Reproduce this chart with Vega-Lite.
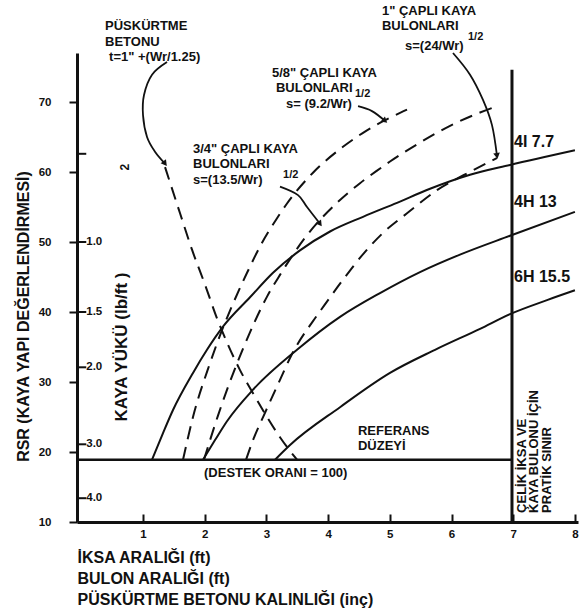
{
  "$schema": "https://vega.github.io/schema/vega-lite/v6.json",
  "width": 501,
  "height": 469,
  "autosize": {"type": "none"},
  "padding": {"left": 77, "top": 53, "right": 2, "bottom": 90},
  "background": "white",
  "config": {
    "view": {"stroke": null},
    "font": "Liberation Sans",
    "text": {"font": "Liberation Sans", "fontWeight": "bold", "fontSize": 13, "color": "#111"}
  },
  "datasets": {
    "solid": [
      {"s": "4I", "x": 1.146, "y": 18.9}, {"s": "4I", "x": 1.324, "y": 22.7}, {"s": "4I", "x": 1.486, "y": 26.0}, {"s": "4I", "x": 1.81, "y": 31.3}, {"s": "4I", "x": 2.037, "y": 34.6}, {"s": "4I", "x": 2.296, "y": 37.9}, {"s": "4I", "x": 2.734, "y": 42.1}, {"s": "4I", "x": 3.107, "y": 45.6}, {"s": "4I", "x": 3.544, "y": 48.8}, {"s": "4I", "x": 4.031, "y": 51.5}, {"s": "4I", "x": 4.566, "y": 53.6}, {"s": "4I", "x": 5.117, "y": 55.6}, {"s": "4I", "x": 5.652, "y": 57.6}, {"s": "4I", "x": 6.3, "y": 59.6}, {"s": "4I", "x": 6.948, "y": 61.0}, {"s": "4I", "x": 8.0, "y": 63.1},
      {"s": "4H", "x": 1.972, "y": 18.9}, {"s": "4H", "x": 2.167, "y": 21.7}, {"s": "4H", "x": 2.361, "y": 24.4}, {"s": "4H", "x": 2.783, "y": 28.9}, {"s": "4H", "x": 3.496, "y": 34.6}, {"s": "4H", "x": 4.193, "y": 39.3}, {"s": "4H", "x": 4.841, "y": 42.7}, {"s": "4H", "x": 5.489, "y": 45.7}, {"s": "4H", "x": 6.137, "y": 48.2}, {"s": "4H", "x": 6.948, "y": 50.9}, {"s": "4H", "x": 8.0, "y": 54.3},
      {"s": "6H", "x": 3.14, "y": 18.9}, {"s": "6H", "x": 3.383, "y": 21.0}, {"s": "6H", "x": 4.193, "y": 26.4}, {"s": "6H", "x": 5.003, "y": 31.3}, {"s": "6H", "x": 5.733, "y": 34.6}, {"s": "6H", "x": 6.462, "y": 37.6}, {"s": "6H", "x": 6.948, "y": 39.7}, {"s": "6H", "x": 7.548, "y": 41.7}, {"s": "6H", "x": 8.0, "y": 43.1}
    ],
    "dashed": [
      {"s": "5/8", "x": 1.648, "y": 18.9}, {"s": "5/8", "x": 1.81, "y": 25.0}, {"s": "5/8", "x": 2.086, "y": 32.7}, {"s": "5/8", "x": 2.28, "y": 37.4}, {"s": "5/8", "x": 2.41, "y": 40.2}, {"s": "5/8", "x": 2.686, "y": 45.6}, {"s": "5/8", "x": 2.929, "y": 49.9}, {"s": "5/8", "x": 3.172, "y": 53.4}, {"s": "5/8", "x": 3.334, "y": 55.5}, {"s": "5/8", "x": 3.755, "y": 59.9}, {"s": "5/8", "x": 4.241, "y": 63.6}, {"s": "5/8", "x": 4.566, "y": 65.6}, {"s": "5/8", "x": 4.922, "y": 67.4}, {"s": "5/8", "x": 5.279, "y": 68.9},
      {"s": "3/4", "x": 1.988, "y": 18.9}, {"s": "3/4", "x": 2.215, "y": 25.2}, {"s": "3/4", "x": 2.442, "y": 30.8}, {"s": "3/4", "x": 2.637, "y": 35.1}, {"s": "3/4", "x": 2.815, "y": 38.7}, {"s": "3/4", "x": 3.01, "y": 42.2}, {"s": "3/4", "x": 3.22, "y": 45.3}, {"s": "3/4", "x": 3.625, "y": 50.6}, {"s": "3/4", "x": 4.144, "y": 55.6}, {"s": "3/4", "x": 4.517, "y": 58.4}, {"s": "3/4", "x": 4.793, "y": 60.2}, {"s": "3/4", "x": 5.003, "y": 61.5}, {"s": "3/4", "x": 5.489, "y": 64.2}, {"s": "3/4", "x": 5.976, "y": 66.6}, {"s": "3/4", "x": 6.462, "y": 68.5}, {"s": "3/4", "x": 6.673, "y": 69.2},
      {"s": "1", "x": 2.67, "y": 18.9}, {"s": "1", "x": 2.783, "y": 21.7}, {"s": "1", "x": 2.977, "y": 25.6}, {"s": "1", "x": 3.22, "y": 30.3}, {"s": "1", "x": 3.415, "y": 34.0}, {"s": "1", "x": 3.755, "y": 38.7}, {"s": "1", "x": 3.869, "y": 40.1}, {"s": "1", "x": 4.241, "y": 44.6}, {"s": "1", "x": 4.599, "y": 48.6}, {"s": "1", "x": 4.89, "y": 51.3}, {"s": "1", "x": 5.279, "y": 54.1}, {"s": "1", "x": 5.765, "y": 57.4}, {"s": "1", "x": 6.186, "y": 59.5}, {"s": "1", "x": 6.737, "y": 62.0},
      {"s": "shot", "x": 1.357, "y": 60.7}, {"s": "shot", "x": 1.6, "y": 54.1}, {"s": "shot", "x": 1.794, "y": 48.9}, {"s": "shot", "x": 2.005, "y": 43.9}, {"s": "shot", "x": 2.199, "y": 39.1}, {"s": "shot", "x": 2.378, "y": 35.3}, {"s": "shot", "x": 2.572, "y": 31.7}, {"s": "shot", "x": 2.783, "y": 28.4}, {"s": "shot", "x": 3.01, "y": 25.0}, {"s": "shot", "x": 3.22, "y": 22.1}, {"s": "shot", "x": 3.496, "y": 18.9}
    ],
    "arrows": [
      {"s": "a1", "o": 1, "x": 1.389, "y": 75.7}, {"s": "a1", "o": 2, "x": 1.146, "y": 73.9}, {"s": "a1", "o": 3, "x": 1.016, "y": 71.0}, {"s": "a1", "o": 4, "x": 1.0, "y": 68.1}, {"s": "a1", "o": 5, "x": 1.065, "y": 65.0}, {"s": "a1", "o": 6, "x": 1.194, "y": 62.9}, {"s": "a1", "o": 7, "x": 1.357, "y": 61.2},
      {"s": "a2", "o": 1, "x": 4.485, "y": 69.4}, {"s": "a2", "o": 2, "x": 4.711, "y": 68.7}, {"s": "a2", "o": 3, "x": 4.922, "y": 67.3},
      {"s": "a3", "o": 1, "x": 3.22, "y": 57.9}, {"s": "a3", "o": 2, "x": 3.512, "y": 56.7}, {"s": "a3", "o": 3, "x": 3.658, "y": 55.0}, {"s": "a3", "o": 4, "x": 3.869, "y": 52.6},
      {"s": "a4", "o": 1, "x": 6.024, "y": 77.0}, {"s": "a4", "o": 2, "x": 6.3, "y": 73.9}, {"s": "a4", "o": 3, "x": 6.51, "y": 70.3}, {"s": "a4", "o": 4, "x": 6.656, "y": 66.7}, {"s": "a4", "o": 5, "x": 6.737, "y": 62.3}
    ],
    "heads": [
      {"x": 1.357, "y": 61.2, "a": -37},
      {"x": 4.922, "y": 67.3, "a": -50},
      {"x": 3.869, "y": 52.6, "a": -36},
      {"x": 6.737, "y": 62.3, "a": -9}
    ],
    "load": [
      {"y": 62.6, "t": ""}, {"y": 50, "t": "1.0"}, {"y": 40, "t": "1.5"}, {"y": 32.1, "t": "2.0"}, {"y": 21.1, "t": "3.0"}, {"y": 13.4, "t": "4.0"}
    ],
    "labels": [
      {"x": 0.384, "y": 80.8, "t": "PÜSKÜRTME"},
      {"x": 0.384, "y": 78.6, "t": "BETONU"},
      {"x": 0.45, "y": 76.4, "t": "t=1\" +(Wr/1.25)"},
      {"x": 3.09, "y": 74.2, "t": "5/8\" ÇAPLI KAYA"},
      {"x": 3.155, "y": 72.0, "t": "BULONLARI"},
      {"x": 3.318, "y": 69.7, "t": "s= (9.2/Wr)"},
      {"x": 1.81, "y": 63.3, "t": "3/4\" ÇAPLI KAYA"},
      {"x": 1.81, "y": 61.1, "t": "BULONLARI"},
      {"x": 1.81, "y": 58.9, "t": "s=(13.5/Wr)"},
      {"x": 4.873, "y": 83.0, "t": "1\" ÇAPLI KAYA"},
      {"x": 4.873, "y": 80.8, "t": "BULONLARI"},
      {"x": 5.246, "y": 78.0, "t": "s=(24/Wr)"},
      {"x": 4.484, "y": 23.0, "t": "REFERANS"},
      {"x": 4.484, "y": 20.8, "t": "DÜZEYİ"},
      {"x": 1.989, "y": 17.0, "t": "(DESTEK ORANI = 100)"}
    ],
    "steel": [
      {"x": 7.013, "y": 64.3, "t": "4I 7.7"},
      {"x": 7.013, "y": 55.7, "t": "4H 13"},
      {"x": 7.013, "y": 45.0, "t": "6H 15.5"}
    ],
    "sup": [
      {"x": 4.435, "y": 71.1, "t": "1/2"},
      {"x": 3.27, "y": 59.6, "t": "1/2"},
      {"x": 6.267, "y": 79.3, "t": "1/2"}
    ],
    "vert": [
      {"x": 7.143, "y": 11.3, "t": "ÇELİK İKSA VE"},
      {"x": 7.33, "y": 11.3, "t": "KAYA BULONU İÇİN"},
      {"x": 7.54, "y": 11.3, "t": "PRATİK SINIR"}
    ],
    "vertc": [
      {"x": 0.66, "y": 35.0, "t": "KAYA YÜKÜ (lb/ft )"}
    ],
    "vertc2": [
      {"x": 0.708, "y": 60.7, "t": "2"}
    ]
  },
  "layer": [
    {
      "data": {"name": "solid"},
      "mark": {"type": "line", "interpolate": "monotone", "strokeWidth": 2, "color": "#111"},
      "encoding": {
        "x": {
          "field": "x", "type": "quantitative",
          "scale": {"domain": [-0.07, 8.05], "nice": false, "zero": false},
          "axis": {
            "values": [1, 2, 3, 4, 5, 6, 7, 8], "format": "d", "grid": false,
            "domainColor": "#111", "domainWidth": 3, "tickColor": "#111", "tickWidth": 2, "tickSize": -8,
            "labelFont": "Liberation Sans", "labelFontWeight": "bold", "labelFontSize": 11.5, "labelColor": "#111", "labelPadding": 14,
            "title": ["İKSA ARALIĞI (ft)", "BULON ARALIĞI (ft)", "PÜSKÜRTME BETONU KALINLIĞI (inç)"],
            "titleFont": "Liberation Sans", "titleFontWeight": "bold", "titleFontSize": 16, "titleColor": "#111",
            "titleAnchor": "start", "titleAlign": "left", "titleBaseline": "middle", "titleLineHeight": 21, "titleX": 0, "titleY": 35
          }
        },
        "y": {
          "field": "y", "type": "quantitative",
          "scale": {"domain": [10, 77], "nice": false, "zero": false},
          "axis": {
            "values": [10, 20, 30, 40, 50, 60, 70], "grid": false,
            "domainColor": "#111", "domainWidth": 3, "tickColor": "#111", "tickWidth": 2, "tickSize": 8,
            "labelFont": "Liberation Sans", "labelFontWeight": "bold", "labelFontSize": 11.5, "labelColor": "#111", "labelPadding": 18,
            "title": "RSR (KAYA YAPI DEĞERLENDİRMESİ)",
            "titleFont": "Liberation Sans", "titleFontWeight": "bold", "titleFontSize": 16, "titleColor": "#111",
            "titleAngle": 270, "titleAlign": "center", "titleBaseline": "middle", "titleX": -54, "titleY": 263
          }
        },
        "detail": {"field": "s"}
      }
    },
    {
      "data": {"name": "dashed"},
      "mark": {"type": "line", "interpolate": "monotone", "strokeWidth": 2, "color": "#111", "strokeDash": [13, 8]},
      "encoding": {
        "x": {"field": "x", "type": "quantitative"},
        "y": {"field": "y", "type": "quantitative"},
        "detail": {"field": "s"}
      }
    },
    {
      "data": {"name": "arrows"},
      "mark": {"type": "line", "interpolate": "cardinal", "strokeWidth": 1.8, "color": "#111"},
      "encoding": {
        "x": {"field": "x", "type": "quantitative"},
        "y": {"field": "y", "type": "quantitative"},
        "detail": {"field": "s"},
        "order": {"field": "o"}
      }
    },
    {
      "data": {"name": "heads"},
      "mark": {"type": "point", "shape": "triangle-down", "filled": true, "size": 45, "color": "#111", "opacity": 1},
      "encoding": {
        "x": {"field": "x", "type": "quantitative"},
        "y": {"field": "y", "type": "quantitative"},
        "angle": {"field": "a", "type": "quantitative", "scale": null}
      }
    },
    {
      "data": {"values": [{}]},
      "mark": {"type": "rule", "strokeWidth": 2.5, "color": "#111"},
      "encoding": {
        "x": {"datum": -0.07},
        "x2": {"datum": 6.98},
        "y": {"datum": 18.9}
      }
    },
    {
      "data": {"values": [{}]},
      "mark": {"type": "rule", "strokeWidth": 3, "color": "#111"},
      "encoding": {
        "x": {"datum": 6.98},
        "y": {"datum": 10},
        "y2": {"datum": 74.6}
      }
    },
    {
      "data": {"name": "load"},
      "mark": {"type": "rule", "strokeWidth": 2, "color": "#111"},
      "encoding": {
        "x": {"datum": -0.07},
        "x2": {"datum": 0.08},
        "y": {"field": "y", "type": "quantitative"}
      }
    },
    {
      "data": {"name": "load"},
      "mark": {"type": "text", "align": "left", "baseline": "middle", "fontSize": 11.5},
      "encoding": {
        "x": {"datum": 0.08},
        "y": {"field": "y", "type": "quantitative"},
        "text": {"field": "t"}
      }
    },
    {
      "data": {"name": "labels"},
      "mark": {"type": "text", "align": "left", "baseline": "middle"},
      "encoding": {
        "x": {"field": "x", "type": "quantitative"},
        "y": {"field": "y", "type": "quantitative"},
        "text": {"field": "t"}
      }
    },
    {
      "data": {"name": "steel"},
      "mark": {"type": "text", "align": "left", "baseline": "middle", "fontSize": 16},
      "encoding": {
        "x": {"field": "x", "type": "quantitative"},
        "y": {"field": "y", "type": "quantitative"},
        "text": {"field": "t"}
      }
    },
    {
      "data": {"name": "sup"},
      "mark": {"type": "text", "align": "left", "baseline": "middle", "fontSize": 11},
      "encoding": {
        "x": {"field": "x", "type": "quantitative"},
        "y": {"field": "y", "type": "quantitative"},
        "text": {"field": "t"}
      }
    },
    {
      "data": {"name": "vert"},
      "mark": {"type": "text", "align": "left", "baseline": "middle", "angle": 270, "fontSize": 13},
      "encoding": {
        "x": {"field": "x", "type": "quantitative"},
        "y": {"field": "y", "type": "quantitative"},
        "text": {"field": "t"}
      }
    },
    {
      "data": {"name": "vertc"},
      "mark": {"type": "text", "align": "center", "baseline": "middle", "angle": 270, "fontSize": 17},
      "encoding": {
        "x": {"field": "x", "type": "quantitative"},
        "y": {"field": "y", "type": "quantitative"},
        "text": {"field": "t"}
      }
    },
    {
      "data": {"name": "vertc2"},
      "mark": {"type": "text", "align": "center", "baseline": "middle", "angle": 270, "fontSize": 12},
      "encoding": {
        "x": {"field": "x", "type": "quantitative"},
        "y": {"field": "y", "type": "quantitative"},
        "text": {"field": "t"}
      }
    }
  ]
}
